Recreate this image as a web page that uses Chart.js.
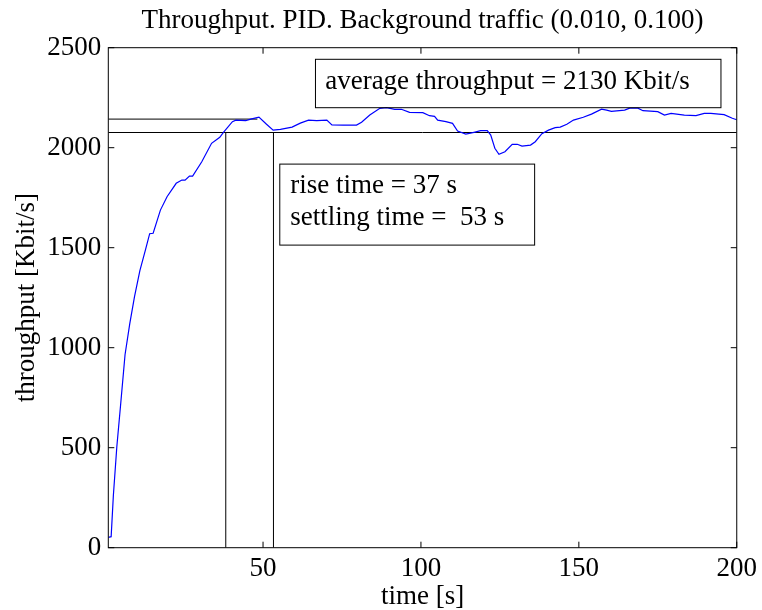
<!DOCTYPE html>
<html>
<head>
<meta charset="utf-8">
<script src="https://cdn.jsdelivr.net/npm/chart.js@4.4.1/dist/chart.umd.min.js"></script>
<style>
  html, body { margin: 0; padding: 0; background: #ffffff; }
  #wrap { width: 762px; height: 610px; }
</style>
</head>
<body>
<div id="wrap"><canvas id="c" width="762" height="610"></canvas></div>
<script>
// ---- data ----
const timeS = [1, 1.9, 2.6, 3.7, 4.9, 6.3, 7.8, 9.3, 11.0, 12.7, 14.1, 15.2, 17.5, 19.6, 22.5, 24.3, 25.3, 26.7, 27.7, 30.6,
  33.7, 36.3, 37.4, 40.3, 41.4, 44.5, 46.1, 48.7, 51.1, 53.2, 55.5, 59.2, 61.8, 64.4, 67.0, 70.2, 71.8, 75.4, 79.6, 81.2,
  83.8, 87.0, 89.1, 91.7, 93.8, 96.4, 100.6, 102.7, 104.3, 105.3, 107.9, 110.0, 111.6, 114.2, 116.8, 118.9, 121.0, 122.1, 123.4, 124.7,
  126.6, 128.9, 130.5, 132.0, 134.7, 136.2, 138.3, 140.4, 142.5, 144.1, 146.2, 148.3, 151.4, 154.0, 157.2, 158.8, 160.3, 164.5, 166.1, 168.7,
  170.3, 175.0, 177.1, 179.2, 183.4, 187.1, 189.7, 191.8, 196.0, 198.6, 200.0];
const throughputKbit = [52, 55, 260, 505, 715, 965, 1120, 1255, 1385, 1485, 1570, 1572, 1688, 1755, 1822, 1838, 1838, 1858, 1858, 1930,
  2022, 2052, 2075, 2130, 2138, 2135, 2143, 2153, 2117, 2088, 2092, 2103, 2123, 2138, 2135, 2138, 2114, 2113, 2113, 2127,
  2163, 2197, 2200, 2192, 2192, 2177, 2175, 2160, 2157, 2138, 2130, 2122, 2083, 2068, 2077, 2085, 2085, 2063, 1997, 1967,
  1980, 2017, 2017, 2008, 2013, 2030, 2070, 2088, 2100, 2103, 2117, 2138, 2152, 2168, 2193, 2188, 2182, 2188, 2198, 2198,
  2185, 2180, 2163, 2172, 2163, 2160, 2172, 2172, 2165, 2147, 2140];
const bandLevels = [2143, 2076];          // upper and lower reference levels
const bandUpperEndTime = 48.2;            // upper reference line ends here
const markerTimes = [38.2, 53.3];         // rise / settling markers
const xRange = [1, 200];
const xTicks = [50, 100, 150, 200];
const yTicks = [0, 500, 1000, 1500, 2000, 2500];
const titleText = 'Throughput. PID. Background traffic (0.010, 0.100)';
const xTitle = 'time [s]';
const yTitle = 'throughput [Kbit/s]';
const boxTexts = [['average throughput = 2130 Kbit/s'], ['rise time = 37 s', 'settling time =  53 s']];

// ---- presentation ----
const FONT = "'Liberation Serif', 'Times New Roman', Times, serif";
const FS = 27;
Chart.defaults.font.family = FONT;
Chart.defaults.color = '#000';

const curve = timeS.map((t, i) => ({ x: t, y: throughputKbit[i] }));
const lineStyle = { borderColor: '#000', borderWidth: 1, pointRadius: 0, tension: 0, fill: false };

// annotation boxes in data coordinates (x1, x2, yTop, yBottom) with text layout
const boxes = [
  { x1: 66.6, x2: 195.0, yTop: 2442, yBot: 2200, padX: 9.7, baselines: [30.0] },
  { x1: 55.3, x2: 136.0, yTop: 1918, yBot: 1513, padX: 10.4, baselines: [29.3, 60.5] }
];

const decor = {
  id: 'decor',
  afterDatasetsDraw(chart) {
    const { ctx, chartArea: a, scales: { x, y } } = chart;
    ctx.save();
    ctx.strokeStyle = '#000';
    ctx.lineWidth = 1;
    ctx.strokeRect(a.left, a.top, a.right - a.left, a.bottom - a.top);
    const TL = 6;
    ctx.beginPath();
    xTicks.forEach(v => {
      const p = x.getPixelForValue(v);
      ctx.moveTo(p, a.bottom); ctx.lineTo(p, a.bottom - TL);
      ctx.moveTo(p, a.top); ctx.lineTo(p, a.top + TL);
    });
    yTicks.forEach(v => {
      const p = y.getPixelForValue(v);
      ctx.moveTo(a.left, p); ctx.lineTo(a.left + TL, p);
      ctx.moveTo(a.right, p); ctx.lineTo(a.right - TL, p);
    });
    ctx.stroke();
    ctx.font = FS + 'px ' + FONT;
    ctx.fillStyle = '#000';
    ctx.textAlign = 'left';
    ctx.textBaseline = 'alphabetic';
    boxes.forEach((b, i) => {
      const l = x.getPixelForValue(b.x1), r = x.getPixelForValue(b.x2);
      const t = y.getPixelForValue(b.yTop), btm = y.getPixelForValue(b.yBot);
      ctx.strokeRect(l, t, r - l, btm - t);
      boxTexts[i].forEach((s, j) => ctx.fillText(s, l + b.padX, t + b.baselines[j]));
    });
    ctx.restore();
  }
};

new Chart(document.getElementById('c'), {
  type: 'line',
  data: {
    datasets: [
      { data: curve, borderColor: '#0000ff', borderWidth: 1.2, pointRadius: 0, tension: 0, fill: false },
      Object.assign({ data: [{ x: xRange[0], y: bandLevels[0] }, { x: bandUpperEndTime, y: bandLevels[0] }] }, lineStyle),
      Object.assign({ data: [{ x: xRange[0], y: bandLevels[1] }, { x: xRange[1], y: bandLevels[1] }] }, lineStyle),
      Object.assign({ data: [{ x: markerTimes[0], y: 0 }, { x: markerTimes[0], y: bandLevels[1] }] }, lineStyle),
      Object.assign({ data: [{ x: markerTimes[1], y: 0 }, { x: markerTimes[1], y: bandLevels[1] }] }, lineStyle)
    ]
  },
  options: {
    responsive: false,
    animation: false,
    events: [],
    layout: { padding: { left: 0, right: 20.5, top: 0, bottom: 0 } },
    plugins: {
      legend: { display: false },
      tooltip: { enabled: false },
      title: {
        display: true, fullSize: false, text: titleText, color: '#000',
        font: { family: FONT, size: FS, weight: 'normal' },
        padding: { top: 5, bottom: 10.3 }
      }
    },
    scales: {
      x: {
        type: 'linear', min: xRange[0], max: xRange[1],
        afterBuildTicks: s => { s.ticks = xTicks.map(v => ({ value: v })); },
        afterFit: s => { s.height = 62.3; },
        grid: { display: false, drawTicks: false },
        border: { display: false },
        ticks: { color: '#000', font: { family: FONT, size: FS }, padding: 5, maxRotation: 0, autoSkip: false,
                 callback: v => String(v) },
        title: { display: true, text: xTitle, color: '#000', font: { family: FONT, size: FS, lineHeight: 1 }, padding: { top: 0, bottom: 0 } }
      },
      y: {
        type: 'linear', min: yTicks[0], max: yTicks[yTicks.length - 1],
        afterBuildTicks: s => { s.ticks = yTicks.map(v => ({ value: v })); },
        afterFit: s => { s.width = 108.3; },
        grid: { display: false, drawTicks: false },
        border: { display: false },
        ticks: { color: '#000', font: { family: FONT, size: FS }, padding: 7, autoSkip: false,
                 callback: v => String(v) },
        title: { display: true, text: yTitle, color: '#000', font: { family: FONT, size: FS }, padding: { top: 11, bottom: 0 } }
      }
    }
  },
  plugins: [decor]
});
</script>
</body>
</html>
